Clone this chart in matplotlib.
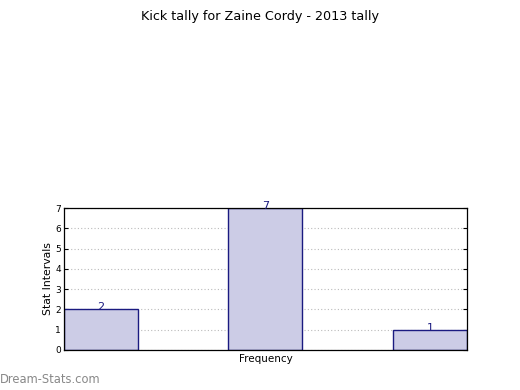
import matplotlib
matplotlib.use("Agg")
import matplotlib.pyplot as plt

categories = ["", "", ""]
counts = [2, 7, 1]
y_ticks = [0, 1, 2, 3, 4, 5, 6, 7]

fig = plt.figure(figsize=(5.2, 3.9), dpi=100)
ax = fig.add_axes([0.123, 0.1026, 0.775, 0.364])

x = list(range(len(counts)))
w = 0.45
ax.bar(x, counts, width=w, color="#ccccE6", edgecolor="#1a1a80", linewidth=1.0, zorder=2)
for xi, c in zip(x, counts):
    ax.text(xi, c - 0.05, str(c), ha="center", va="baseline", color="#1a1a80", fontsize=8, zorder=3)

ax.set_xlim(-w / 2, x[-1] + w / 2)
ax.set_ylim(0, 7)
ax.set_yticks(y_ticks)
ax.set_xticks([])
ax.tick_params(axis="y", labelsize=6.5, length=3, direction="in", right=True, pad=2)
ax.yaxis.grid(True, linestyle=(0, (1, 2)), color="#bbbbbb", linewidth=0.8, zorder=0)
ax.set_axisbelow(True)
for s in ax.spines.values():
    s.set_linewidth(0.9)

ax.set_ylabel("Stat Intervals", fontsize=7.8, labelpad=2)
ax.set_xlabel("Frequency", fontsize=7.5, labelpad=3)
fig.text(0.5, 0.975, "Kick tally for Zaine Cordy - 2013 tally", ha="center", va="top", fontsize=9.2)
fig.text(0.0, 0.01, "Dream-Stats.com", ha="left", va="bottom", fontsize=8.3, color="#888888")

fig.savefig("out.png", dpi=100)
